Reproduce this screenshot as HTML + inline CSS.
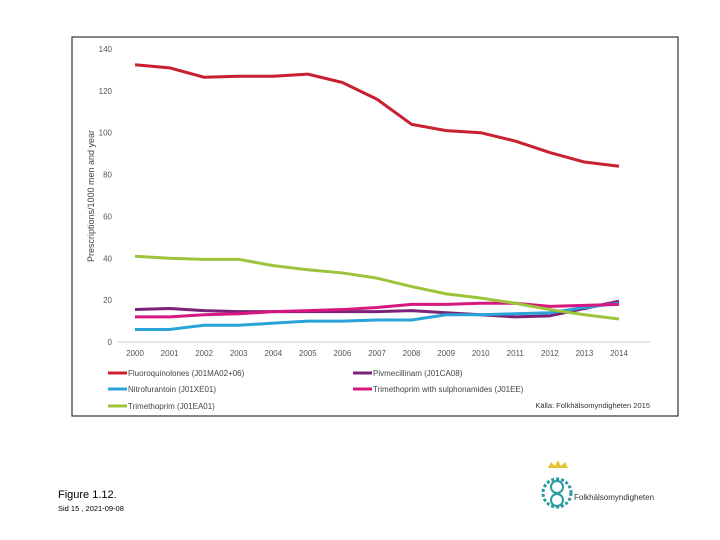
<!DOCTYPE html>
<html><head><meta charset="utf-8"><style>
body{margin:0;background:#fff;font-family:"Liberation Sans",sans-serif}
</style></head><body>
<svg width="720" height="540" viewBox="0 0 720 540" style="display:block">
<rect x="72" y="37" width="606" height="379" fill="#fff" stroke="#333" stroke-width="1.2"/>
<g id="grid"></g>
<g id="series"></g>
<g id="legend"></g>
<text x="0" y="0" transform="translate(94,196) rotate(-90)" text-anchor="middle" font-size="9" fill="#444">Prescriptions/1000 men and year</text>
<text x="650" y="408" text-anchor="end" font-size="7.5" fill="#333">Källa: Folkhälsomyndigheten 2015</text>
<text x="58" y="498" font-size="11" fill="#000">Figure 1.12.</text>
<text x="58" y="511" font-size="7.5" fill="#000">Sid 15 , 2021-09-08</text>
<g>
<path d="M548 468 l3-6 4 4 3-6 3 6 4-4 3 6z" fill="#e8c33a"/>
<circle cx="557" cy="493" r="14" fill="none" stroke="#2a9aa0" stroke-width="3" stroke-dasharray="3 2"/>
<circle cx="557" cy="487" r="6" fill="none" stroke="#2a9aa0" stroke-width="2"/>
<circle cx="557" cy="500" r="6" fill="none" stroke="#2a9aa0" stroke-width="2"/>
<text x="574" y="500" font-size="8" fill="#333">Folkhälsomyndigheten</text>
</g>
<script>
const years=["2000","2001","2002","2003","2004","2005","2006","2007","2008","2009","2010","2011","2012","2013","2014"];
const yTicks=[0,20,40,60,80,100,120,140];
const fluoro=[132.5,131,126.5,127,127,128,124,116,104,101,100,96,90.5,86,84];
const pivme=[15.5,16,15,14.5,14.5,14.5,14.5,14.5,15,14,13,12,12.5,16,19.5];
const nitro=[6,6,8,8,9,10,10,10.5,10.5,13,13,13.5,14,16.5,18.5];
const trimsul=[12,12,13,13.5,14.5,15,15.5,16.5,18,18,18.5,18.5,17,17.5,18];
const trim=[41,40,39.5,39.5,36.5,34.5,33,30.5,26.5,23,21,18.5,15.5,13,11];
const NS="http://www.w3.org/2000/svg";
const x=i=>135+i*(619-135)/(years.length-1);
const y=v=>342-v*(342-49)/140;
const grid=document.getElementById('grid');
function mk(tag,attrs,parent,txt){const e=document.createElementNS(NS,tag);for(const k in attrs)e.setAttribute(k,attrs[k]);if(txt!=null)e.textContent=txt;parent.appendChild(e);return e;}
const axis=mk('line',{x1:118,x2:650,y1:y(0),y2:y(0),stroke:'#ccc','stroke-width':1},grid);


yTicks.forEach(t=>{const e=mk('text',{x:112,y:y(t)+3,'text-anchor':'end','font-size':8,fill:'#555'},grid,t);

});
years.forEach((yr,i)=>{const e=mk('text',{x:x(i),y:356,'text-anchor':'middle','font-size':8,fill:'#555'},grid,yr);

});
const series=[
{name:'Fluoroquinolones (J01MA02+06)',data:fluoro,c:'#c8202f',lx:108,ly:373,id:'fluoroquinolones'},
{name:'Pivmecillinam (J01CA08)',data:pivme,c:'#7b2378',lx:353,ly:373,id:'pivmecillinam'},
{name:'Nitrofurantoin (J01XE01)',data:nitro,c:'#2aa3d8',lx:108,ly:389,id:'nitrofurantoin'},
{name:'Trimethoprim with sulphonamides (J01EE)',data:trimsul,c:'#d6177f',lx:353,ly:389,id:'trimethoprim-sulphonamides'},
{name:'Trimethoprim (J01EA01)',data:trim,c:'#9bc43a',lx:108,ly:406,id:'trimethoprim'}];
const sg=document.getElementById('series'),lg=document.getElementById('legend');
series.forEach(s=>{
const p=mk('polyline',{points:s.data.map((v,i)=>x(i)+','+y(v)).join(' '),fill:'none',stroke:s.c,'stroke-width':3,'stroke-linejoin':'round'},sg);


const g=mk('g',{},lg);


mk('line',{x1:s.lx,x2:s.lx+19,y1:s.ly,y2:s.ly,stroke:s.c,'stroke-width':3},g);
mk('text',{x:s.lx+20,y:s.ly+3,'font-size':8,fill:'#444'},g,s.name);
});
</script>
</svg>
</body></html>
